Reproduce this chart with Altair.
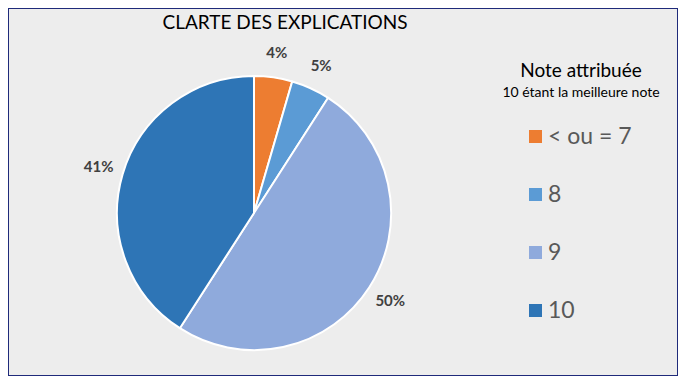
import altair as alt
import pandas as pd

categories = ["< ou = 7", "8", "9", "10"]
values = [4.5, 4.6, 50.0, 40.9]
labels = ["4%", "5%", "50%", "41%"]
colors = ["#ED7D31", "#5B9BD5", "#8FAADC", "#2E75B6"]

title_text = "CLARTE DES EXPLICATIONS"
legend_title = "Note attribuée"
legend_subtitle = "10 étant la meilleure note"

df = pd.DataFrame({"cat": categories, "value": values, "label": labels,
                   "idx": list(range(len(categories)))})

W, H = 670, 368
CX, CY = 246, 205
R = 137

color = alt.Color("cat:N",
                  scale=alt.Scale(domain=categories, range=colors),
                  legend=alt.Legend(title=None, orient="none", legendX=516, legendY=117,
                                    symbolType="square", symbolSize=169,
                                    symbolStrokeWidth=0, symbolOpacity=1,
                                    labelFont="Lato", labelFontSize=23,
                                    labelColor="#595959", labelOffset=1,
                                    rowPadding=34, padding=0))

base = alt.Chart(df).encode(
    theta=alt.Theta("value:Q", stack=True),
    order=alt.Order("idx:Q"),
    x=alt.value(CX), y=alt.value(CY),
)

pie = base.mark_arc(outerRadius=R, stroke="white", strokeWidth=2).encode(color=color)

text = base.mark_text(radius=162, font="Lato", fontSize=15, fontWeight="bold",
                      color="#404040").encode(text="label:N")

one = pd.DataFrame({"t": [0]})
title_mark = alt.Chart(one).mark_text(text=title_text, font="Lato", fontSize=19,
                                      color="#000000", align="center",
                                      baseline="alphabetic").encode(
    x=alt.value(277), y=alt.value(21))
lt = alt.Chart(one).mark_text(text=legend_title, font="Lato", fontSize=19,
                              color="#000000", align="center",
                              baseline="middle").encode(
    x=alt.value(573), y=alt.value(63))
ls = alt.Chart(one).mark_text(text=legend_subtitle, font="Lato", fontSize=14,
                              color="#000000", align="center",
                              baseline="middle").encode(
    x=alt.value(573), y=alt.value(85))

chart = alt.layer(pie, text, title_mark, lt, ls).properties(
    width=W, height=H, padding=0, autosize="none", background="#ededed"
).configure_view(stroke="#1F2A7A", strokeWidth=2)

chart.save("out.html", embed_options={"renderer": "svg", "actions": False})
